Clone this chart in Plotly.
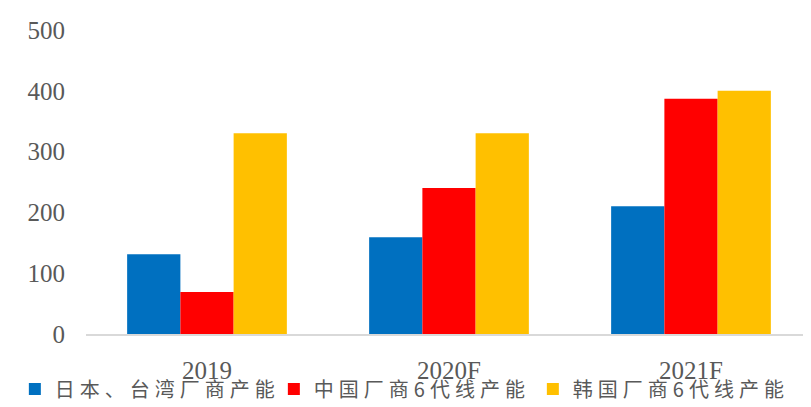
import plotly.graph_objects as go

categories = ["2019", "2020F", "2021F"]
series_names = ["日本、台湾厂商产能", "中国厂商6代线产能", "韩国厂商6代线产能"]
japan_taiwan = [131, 159, 210]
china = [69, 240, 387]
korea = [330, 330, 400]
colors = ["#0070C0", "#FF0000", "#FFC000"]
y_ticks = [0, 100, 200, 300, 400, 500]

fig = go.Figure()
for name, vals, c in zip(series_names, [japan_taiwan, china, korea], colors):
    fig.add_trace(go.Bar(x=categories, y=vals, name=name, marker_color=c,
                         marker_line_width=0))

fig.update_layout(
    width=811, height=407,
    margin=dict(l=75, r=7, t=22, b=76),
    paper_bgcolor="white", plot_bgcolor="white",
    barmode="group", bargap=0.34, bargroupgap=0,
    font=dict(family="Liberation Serif, Times New Roman, serif", color="#595959", size=25),
    legend=dict(orientation="h", xref="paper", yref="paper",
                x=-0.098, y=-0.181, xanchor="left", yanchor="middle",
                font=dict(family="Noto Sans CJK SC", size=20, color="#595959"),
                entrywidth=214, entrywidthmode="pixels",
                itemsizing="constant", traceorder="normal",
                bgcolor="rgba(0,0,0,0)", borderwidth=0),
    xaxis=dict(showline=True, linecolor="#D9D9D9", linewidth=1.5, automargin=False,
               ticks="outside", ticklen=13, tickcolor="rgba(0,0,0,0)",
               showgrid=False),
    yaxis=dict(range=[0, 500], tickvals=y_ticks, showgrid=False, zeroline=False,
               automargin=False,
               showline=False, ticks="outside", ticklen=15, tickcolor="rgba(0,0,0,0)"),
)

post = """
document.querySelectorAll('.legendtext').forEach(function(e){
  e.style.letterSpacing = '5px';
});
"""
fig.write_html("out.html", post_script=post)
